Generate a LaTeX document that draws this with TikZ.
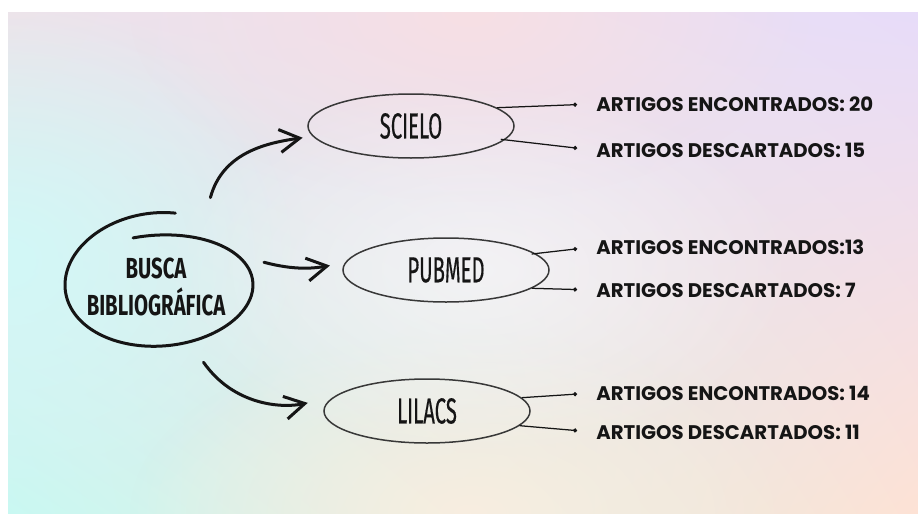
\documentclass[tikz,border=0pt]{standalone}
\usepackage{fontspec}
\usetikzlibrary{arrows.meta,shapes.geometric,shadings,fadings}
\newfontfamily\labelfont{Poppins}
\newfontfamily\handfont[FakeStretch=0.56, FakeBold=0.35]{Fira Sans}
\newfontfamily\hubfont[FakeStretch=0.7]{Fira Sans}
\definecolor{bgul}{HTML}{EEE3EA}
\definecolor{bgur}{HTML}{E7DCF9}
\definecolor{bgll}{HTML}{C9F8F2}
\definecolor{bglr}{HTML}{FDE2D5}
\definecolor{glowcyan}{HTML}{D2F8F7}
\definecolor{glowpink}{HTML}{F7DFE4}
\definecolor{glowcream}{HTML}{F8EEE0}
\definecolor{ink}{HTML}{151515}
\tikzfading[name=softglow, inner color=transparent!0, outer color=transparent!100]
\tikzset{
	db/.style={ellipse, draw=ink!85, line width=0.3mm, minimum width=41.2mm, minimum height=12.8mm, inner sep=0pt, text=ink, font=\handfont\fontsize{20.6}{22}\selectfont},
	hub/.style={ellipse, minimum width=37.6mm, minimum height=26mm, inner sep=0pt, align=center, text=ink, font=\hubfont\bfseries\fontsize{16.5}{21.5}\selectfont},
	count/.style={anchor=west, inner sep=0.6mm, text=ink, font=\labelfont\bfseries\fontsize{11.2}{13}\selectfont},
	leg/.style={ink, line width=0.25mm, -{Circle[length=0.8mm]}, shorten >=3.2mm},
	swoosh/.style={ink, line width=0.6mm, line cap=round, -{Straight Barb[length=4mm,width=4.6mm]}},
	glow/.style={fill=#1, path fading=softglow}
}

\begin{document}
\begin{tikzpicture}[x=0.2mm, y=0.2mm]
		%%%%% START %%%%%
		
		\useasboundingbox (0,0) rectangle (918,-513);
		\fill[white] (0,0) rectangle (918,-513);
		\begin{scope}
			\clip (8,-12) rectangle (918,-513);
			\shade[upper left=bgul, upper right=bgur, lower left=bgll, lower right=bglr] (8,-12) rectangle (918,-513);
			\path[glow=glowcyan] (8,-260) ellipse (300 and 260);
			\path[glow=glowpink] (470,-12) ellipse (340 and 190);
			\path[glow=glowcream] (470,-513) ellipse (340 and 180);
			\path[glow=white, fill opacity=0.5] (480,-270) ellipse (320 and 190);
		\end{scope}
		
		% centre
		\node[hub] (busca) at (156,-287) {BUSCA\\BIBLIOGRÁFICA};
		\draw[ink, line width=0.6mm, line cap=round] plot[domain=80:466, samples=90, smooth] ({159+94*cos(\x)}, {-285+(73-0.0622*(\x-80))*sin(\x)});
		
		% bases
		\node[db] (scielo) at (411,-126) {SCIELO};
		\node[db] (pubmed) at (446,-270) {PUBMED};
		\node[db] (lilacs) at (427,-411) {LILACS};
		
		\draw[swoosh, shorten >=2mm] ([yshift=7mm]busca.45) to[out=75, in=188] (scielo.186);
		\draw[swoosh, shorten >=3mm] ([shift={(2.6mm,1.6mm)}]busca.10) to[out=-15, in=190] (pubmed.176);
		\draw[swoosh, shorten >=5mm] ([shift={(1.2mm,-3.2mm)}]busca.-55) to[out=-55, in=192] (lilacs.172);
		
		% contagens
		\node[count] (sc-enc) at (593,-104) {ARTIGOS ENCONTRADOS: 20};
		\node[count] (sc-desc) at (593,-150) {ARTIGOS DESCARTADOS: 15};
		\node[count] (pm-enc) at (593,-247) {ARTIGOS ENCONTRADOS:13};
		\node[count] (pm-desc) at (593,-290) {ARTIGOS DESCARTADOS: 7};
		\node[count] (li-enc) at (593,-393) {ARTIGOS ENCONTRADOS: 14};
		\node[count] (li-desc) at (593,-432) {ARTIGOS DESCARTADOS: 11};
		
		\draw[leg] (scielo.12) -- (sc-enc.west);
		\draw[leg] ([xshift=-1mm]scielo.-8) -- (sc-desc.west);
		\draw[leg] ([xshift=-1mm]pubmed.10) -- (pm-enc.west);
		\draw[leg] (pubmed.-12) -- (pm-desc.west);
		\draw[leg] (lilacs.8) -- (li-enc.west);
		\draw[leg] (lilacs.-9) -- (li-desc.west);
		
		%%%%% END %%%%%
	\end{tikzpicture}
\end{document}
